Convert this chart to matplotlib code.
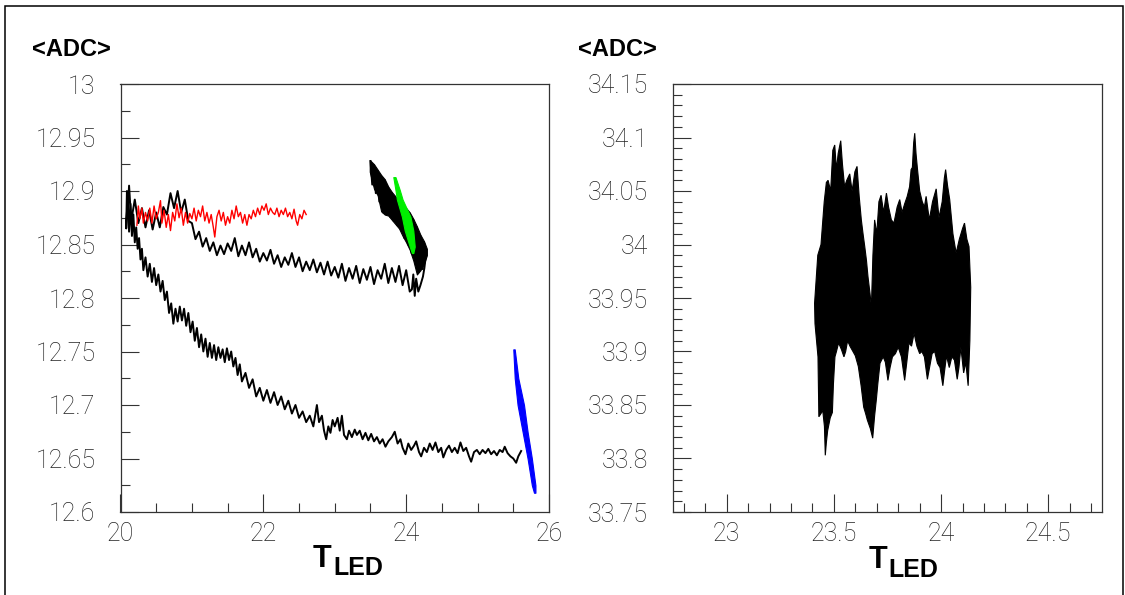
import numpy as np
import matplotlib
matplotlib.use("Agg")
from matplotlib import pyplot as plt
from matplotlib.ticker import MultipleLocator, FuncFormatter
from matplotlib.patches import Rectangle

#%% Data

# left panel: thick black band beside the green run
arm_t = [23.49, 23.55, 23.60, 23.65, 23.70, 23.75, 23.80, 23.85, 23.90, 23.95,
         24.00, 24.05, 24.10, 24.15, 24.20, 24.25, 24.29]
arm_hi = [12.929, 12.925, 12.920, 12.915, 12.911, 12.904, 12.899, 12.895, 12.891, 12.887,
          12.884, 12.880, 12.874, 12.867, 12.859, 12.853, 12.846]
arm_lo = [12.918, 12.902, 12.896, 12.881, 12.878, 12.877, 12.873, 12.869, 12.865, 12.858,
          12.852, 12.845, 12.835, 12.822, 12.826, 12.832, 12.840]

# left panel: black U-shaped run (band, bottom arm, back to 20)
u_t = [23.500, 23.525, 23.550, 23.575, 23.600, 23.625, 23.650, 23.675, 23.700, 23.725,
       23.750, 23.775, 23.800, 23.825, 23.850, 23.875, 23.900, 23.925, 23.950, 23.975,
       24.000, 24.025, 24.050, 24.075, 24.100, 24.125, 24.150, 24.175, 24.200, 24.225,
       24.250, 24.280, 24.255, 24.235, 24.200, 24.170, 24.140, 24.120, 24.100, 24.080,
       24.05, 24.00, 23.95, 23.90, 23.85, 23.80, 23.75, 23.70, 23.65, 23.60,
       23.55, 23.50, 23.45, 23.40, 23.35, 23.30, 23.25, 23.20, 23.15, 23.10,
       23.05, 23.00, 22.95, 22.90, 22.85, 22.80, 22.75, 22.70, 22.65, 22.60,
       22.55, 22.50, 22.45, 22.40, 22.35, 22.30, 22.25, 22.20, 22.15, 22.10,
       22.05, 22.00, 21.95, 21.90, 21.85, 21.80, 21.75, 21.70, 21.65, 21.60,
       21.55, 21.50, 21.45, 21.40, 21.35, 21.30, 21.25, 21.20, 21.15, 21.10,
       21.05, 21.00, 20.95, 20.90, 20.85, 20.80, 20.75, 20.70, 20.65, 20.60,
       20.55, 20.50, 20.45, 20.40, 20.35, 20.30, 20.25, 20.20, 20.15, 20.12,
       20.10, 20.09, 20.08, 20.10]
u_adc = [12.928, 12.906, 12.924, 12.898, 12.919, 12.890, 12.914, 12.880, 12.910, 12.878,
         12.903, 12.876, 12.898, 12.872, 12.894, 12.868, 12.890, 12.864, 12.886, 12.856,
         12.883, 12.850, 12.879, 12.842, 12.873, 12.834, 12.866, 12.824, 12.858, 12.827,
         12.852, 12.842, 12.828, 12.820, 12.812, 12.806, 12.818, 12.802, 12.822, 12.808,
         12.806, 12.826, 12.812, 12.830, 12.815, 12.828, 12.814, 12.832, 12.818, 12.826,
         12.813, 12.829, 12.817, 12.827, 12.814, 12.830, 12.818, 12.828, 12.816, 12.832,
         12.819, 12.829, 12.821, 12.834, 12.822, 12.833, 12.824, 12.836, 12.826, 12.834,
         12.825, 12.838, 12.829, 12.842, 12.831, 12.838, 12.829, 12.840, 12.832, 12.845,
         12.835, 12.842, 12.834, 12.846, 12.838, 12.852, 12.840, 12.849, 12.839, 12.856,
         12.844, 12.851, 12.841, 12.849, 12.840, 12.852, 12.844, 12.856, 12.848, 12.862,
         12.855, 12.870, 12.872, 12.892, 12.880, 12.900, 12.884, 12.898, 12.878, 12.885,
         12.866, 12.880, 12.864, 12.882, 12.866, 12.884, 12.870, 12.892, 12.872, 12.905,
         12.880, 12.900, 12.865, 12.895]

# left panel: black run falling from 20 to 25.6
fall_t = [20.10, 20.12, 20.14, 20.16, 20.18, 20.20, 20.22, 20.24, 20.26, 20.28,
          20.30, 20.32, 20.35, 20.38, 20.41, 20.44, 20.47, 20.50, 20.53, 20.56,
          20.59, 20.62, 20.65, 20.68, 20.71, 20.74, 20.77, 20.80, 20.83, 20.86,
          20.89, 20.92, 20.95, 20.98, 21.01, 21.04, 21.07, 21.10, 21.13, 21.16,
          21.19, 21.22, 21.25, 21.28, 21.31, 21.34, 21.37, 21.40, 21.43, 21.46,
          21.49, 21.52, 21.55, 21.58, 21.61, 21.64, 21.67, 21.70, 21.75, 21.80,
          21.85, 21.90, 21.95, 22.00, 22.05, 22.10, 22.15, 22.20, 22.25, 22.30,
          22.35, 22.40, 22.45, 22.50, 22.55, 22.60, 22.65, 22.70, 22.75, 22.78,
          22.82, 22.85, 22.88, 22.91, 22.94, 22.97, 23.00, 23.04, 23.07, 23.10,
          23.13, 23.17, 23.20, 23.24, 23.28, 23.31, 23.35, 23.39, 23.43, 23.47,
          23.51, 23.55, 23.59, 23.63, 23.67, 23.71, 23.75, 23.80, 23.84, 23.88,
          23.92, 23.95, 23.99, 24.03, 24.07, 24.11, 24.14, 24.18, 24.21, 24.25,
          24.29, 24.33, 24.37, 24.41, 24.45, 24.49, 24.52, 24.56, 24.60, 24.64,
          24.68, 24.72, 24.76, 24.80, 24.84, 24.88, 24.91, 24.95, 24.99, 25.03,
          25.07, 25.11, 25.15, 25.19, 25.23, 25.27, 25.31, 25.35, 25.38, 25.42,
          25.46, 25.50, 25.54, 25.57, 25.61]
fall_adc = [12.895, 12.862, 12.888, 12.858, 12.878, 12.852, 12.866, 12.846, 12.856, 12.836,
            12.846, 12.826, 12.838, 12.820, 12.832, 12.815, 12.828, 12.812, 12.822, 12.806,
            12.816, 12.798, 12.806, 12.786, 12.795, 12.776, 12.790, 12.778, 12.792, 12.779,
            12.790, 12.774, 12.786, 12.768, 12.778, 12.760, 12.772, 12.754, 12.766, 12.750,
            12.762, 12.745, 12.758, 12.744, 12.756, 12.742, 12.754, 12.744, 12.752, 12.740,
            12.753, 12.742, 12.750, 12.736, 12.744, 12.728, 12.738, 12.722, 12.730, 12.716,
            12.724, 12.708, 12.716, 12.704, 12.714, 12.702, 12.712, 12.700, 12.708, 12.696,
            12.704, 12.692, 12.700, 12.688, 12.694, 12.684, 12.690, 12.680, 12.700, 12.684,
            12.690, 12.676, 12.668, 12.680, 12.674, 12.686, 12.680, 12.688, 12.676, 12.690,
            12.672, 12.668, 12.676, 12.670, 12.677, 12.672, 12.676, 12.668, 12.674, 12.667,
            12.673, 12.666, 12.670, 12.664, 12.668, 12.661, 12.666, 12.670, 12.675, 12.664,
            12.668, 12.660, 12.654, 12.664, 12.658, 12.662, 12.666, 12.656, 12.652, 12.660,
            12.656, 12.664, 12.658, 12.665, 12.656, 12.660, 12.651, 12.658, 12.662, 12.656,
            12.660, 12.655, 12.665, 12.657, 12.660, 12.652, 12.647, 12.656, 12.658, 12.654,
            12.658, 12.655, 12.659, 12.654, 12.657, 12.653, 12.658, 12.656, 12.661, 12.655,
            12.652, 12.650, 12.646, 12.652, 12.657]

# left panel: red run
red_t = [20.23, 20.25, 20.27, 20.30, 20.32, 20.35, 20.38, 20.41, 20.44, 20.47,
         20.50, 20.53, 20.56, 20.58, 20.61, 20.64, 20.67, 20.70, 20.73, 20.76,
         20.79, 20.82, 20.85, 20.88, 20.91, 20.94, 20.97, 21.00, 21.03, 21.06,
         21.09, 21.12, 21.15, 21.18, 21.21, 21.24, 21.27, 21.30, 21.32, 21.35,
         21.38, 21.41, 21.44, 21.47, 21.50, 21.53, 21.56, 21.59, 21.62, 21.65,
         21.68, 21.71, 21.74, 21.77, 21.80, 21.83, 21.86, 21.89, 21.92, 21.95,
         21.98, 22.01, 22.04, 22.07, 22.10, 22.13, 22.16, 22.19, 22.22, 22.25,
         22.28, 22.31, 22.34, 22.37, 22.40, 22.43, 22.46, 22.48, 22.51, 22.54,
         22.57, 22.60]
red_adc = [12.868, 12.886, 12.874, 12.884, 12.870, 12.880, 12.872, 12.884, 12.870, 12.886,
           12.874, 12.880, 12.891, 12.870, 12.882, 12.866, 12.878, 12.863, 12.880, 12.872,
           12.888, 12.875, 12.884, 12.868, 12.880, 12.870, 12.879, 12.874, 12.884, 12.872,
           12.882, 12.876, 12.886, 12.872, 12.880, 12.870, 12.878, 12.866, 12.857, 12.876,
           12.882, 12.872, 12.880, 12.868, 12.876, 12.870, 12.882, 12.874, 12.886, 12.876,
           12.880, 12.870, 12.878, 12.868, 12.878, 12.874, 12.882, 12.876, 12.884, 12.878,
           12.886, 12.882, 12.888, 12.878, 12.884, 12.880, 12.878, 12.884, 12.876, 12.882,
           12.878, 12.884, 12.876, 12.880, 12.874, 12.883, 12.872, 12.868, 12.878, 12.874,
           12.882, 12.878]

# left panel: green band (edges at given ADC levels)
green_adc = [12.913, 12.901, 12.892, 12.876, 12.863, 12.848, 12.842]
green_left = [23.82, 23.85, 23.87, 23.94, 23.98, 24.05, 24.08]
green_right = [23.85, 23.91, 23.95, 24.06, 24.10, 24.12, 24.10]

# left panel: blue band (edges at given ADC levels)
blue_adc = [12.752, 12.725, 12.700, 12.675, 12.650, 12.625, 12.618]
blue_left = [25.50, 25.52, 25.56, 25.63, 25.70, 25.76, 25.79]
blue_right = [25.52, 25.57, 25.65, 25.70, 25.76, 25.81, 25.81]

# right panel: outline of the dense black cloud (top edge, then bottom edge back)
top_t = [23.410, 23.425, 23.440, 23.455, 23.465, 23.473, 23.485, 23.495, 23.504, 23.512,
         23.520, 23.532, 23.540, 23.550, 23.560, 23.574, 23.585, 23.598, 23.608, 23.618,
         23.628, 23.636, 23.644, 23.652, 23.659, 23.668, 23.675, 23.682, 23.690, 23.700,
         23.710, 23.720, 23.732, 23.745, 23.755, 23.768, 23.780, 23.795, 23.807, 23.818,
         23.830, 23.842, 23.853, 23.860, 23.866, 23.872, 23.877, 23.883, 23.890, 23.900,
         23.912, 23.922, 23.930, 23.945, 23.960, 23.977, 23.990, 24.005, 24.015, 24.021,
         24.030, 24.040, 24.055, 24.070, 24.085, 24.100, 24.109, 24.120, 24.130, 24.138]
top_adc = [33.945, 33.990, 34.000, 34.040, 34.058, 34.060, 34.050, 34.088, 34.093, 34.070,
           34.085, 34.097, 34.075, 34.054, 34.060, 34.066, 34.050, 34.068, 34.073, 34.045,
           34.023, 34.010, 33.998, 33.985, 33.970, 33.955, 33.942, 33.990, 34.023, 34.010,
           34.040, 34.046, 34.030, 34.048, 34.035, 34.023, 34.020, 34.035, 34.042, 34.030,
           34.038, 34.045, 34.054, 34.070, 34.072, 34.095, 34.104, 34.085, 34.070, 34.050,
           34.040, 34.035, 34.045, 34.023, 34.040, 34.052, 34.025, 34.040, 34.062, 34.070,
           34.055, 34.042, 34.010, 33.992, 34.005, 34.015, 34.020, 34.005, 33.998, 33.960]
bot_t = [24.134, 24.126, 24.115, 24.105, 24.092, 24.083, 24.075, 24.062, 24.050, 24.038,
         24.025, 24.015, 24.008, 23.995, 23.983, 23.970, 23.958, 23.946, 23.936, 23.922,
         23.910, 23.900, 23.887, 23.874, 23.862, 23.850, 23.840, 23.830, 23.815, 23.800,
         23.787, 23.773, 23.762, 23.752, 23.740, 23.730, 23.715, 23.705, 23.698, 23.690,
         23.681, 23.670, 23.663, 23.656, 23.648, 23.639, 23.627, 23.614, 23.600, 23.589,
         23.575, 23.564, 23.555, 23.547, 23.535, 23.522, 23.512, 23.505, 23.498, 23.493,
         23.483, 23.471, 23.465, 23.460, 23.456, 23.448, 23.440, 23.430, 23.426, 23.412]
bot_adc = [33.910, 33.868, 33.890, 33.880, 33.904, 33.885, 33.874, 33.892, 33.895, 33.885,
           33.896, 33.880, 33.868, 33.885, 33.889, 33.900, 33.898, 33.885, 33.874, 33.895,
           33.900, 33.898, 33.905, 33.917, 33.905, 33.908, 33.890, 33.873, 33.895, 33.904,
           33.898, 33.895, 33.885, 33.873, 33.890, 33.895, 33.889, 33.870, 33.855, 33.840,
           33.819, 33.828, 33.832, 33.836, 33.842, 33.848, 33.868, 33.886, 33.896, 33.900,
           33.905, 33.910, 33.900, 33.895, 33.902, 33.908, 33.900, 33.895, 33.870, 33.843,
           33.838, 33.826, 33.815, 33.803, 33.830, 33.845, 33.842, 33.839, 33.895, 33.926]

#%% Figure
plt.rcParams['font.family'] = ['Roboto', 'DejaVu Sans']
tick_font = dict(family=['Roboto', 'DejaVu Sans'], weight='light', size=18)
bold_font = ['Liberation Sans', 'DejaVu Sans']

fig = plt.figure(figsize=(11.25, 5.95), dpi=100)

# outer frame (no bottom edge visible)
fig.add_artist(Rectangle((5 / 1125, -0.02), 1118 / 1125, 1.02 - 6 / 595,
                         transform=fig.transFigure, fill=False,
                         edgecolor='black', linewidth=1.1))

ax1 = fig.add_axes([120.5 / 1125, 83 / 595, 428.5 / 1125, 428 / 595])
ax2 = fig.add_axes([673 / 1125, 83 / 595, 429 / 1125, 428 / 595])

ax1.fill_between(arm_t, arm_lo, arm_hi, color='black', lw=0.8, edgecolor='black')
ax1.plot(u_t, u_adc, color='black', lw=1.4)
ax1.plot(fall_t, fall_adc, color='black', lw=1.4)
ax1.plot(red_t, red_adc, color='#ff0000', lw=1.0)
# fills sit under lines by default, so lift the coloured bands
ax1.fill_betweenx(green_adc, green_left, green_right, color='#00ee00', lw=0.8,
                  edgecolor='#00ee00', zorder=3)
ax1.fill_betweenx(blue_adc, blue_left, blue_right, color='#0000ff', lw=0.8,
                  edgecolor='#0000ff', zorder=3)

ax2.fill(top_t + bot_t, top_adc + bot_adc, facecolor='black',
         edgecolor='black', lw=0.8)

ax1.set_xlim(20, 26)
ax1.set_ylim(12.6, 13.0)
ax2.set_xlim(22.75, 24.75)
ax2.set_ylim(33.75, 34.15)

fmt = FuncFormatter(lambda v, pos: f"{round(v, 4):g}")

ax1.xaxis.set_major_locator(MultipleLocator(2))
ax1.xaxis.set_minor_locator(MultipleLocator(0.5))
ax1.yaxis.set_major_locator(MultipleLocator(0.05))
ax1.yaxis.set_minor_locator(MultipleLocator(0.025))
ax2.xaxis.set_major_locator(MultipleLocator(0.5))
ax2.xaxis.set_minor_locator(MultipleLocator(0.1))
ax2.yaxis.set_major_locator(MultipleLocator(0.05))
ax2.yaxis.set_minor_locator(MultipleLocator(0.01))

for ax in (ax1, ax2):
    ax.xaxis.set_major_formatter(fmt)
    ax.yaxis.set_major_formatter(fmt)
    for s in ax.spines.values():
        s.set_linewidth(0.9)
        s.set_color('#333333')
    ax.tick_params(which='both', direction='in', top=False, right=False,
                   colors='#333333', width=0.8)
    ax.tick_params(which='major', length=13)
    ax.tick_params(which='minor', length=6.5)
    ax.tick_params(axis='y', which='major', pad=18)
    ax.tick_params(axis='x', which='major', pad=7)
    for lab in ax.get_xticklabels() + ax.get_yticklabels():
        lab.set_fontfamily(tick_font['family'])
        lab.set_fontweight(tick_font['weight'])
        lab.set_fontsize(tick_font['size'])
        lab.set_color('#222222')

# axis titles, ROOT style
for x0 in (32, 578):
    fig.text(x0 / 1125, 1 - 50 / 595, '<ADC>', ha='left', va='center',
             fontsize=17, fontweight='bold', family=bold_font)

for tx, lx, tb, lb in ((313, 333, 567, 575), (869, 888, 568, 577)):
    fig.text(tx / 1125, 1 - tb / 595, 'T', ha='left', va='baseline',
             fontsize=22, fontweight='bold', family=bold_font)
    fig.text(lx / 1125, 1 - lb / 595, 'LED', ha='left', va='baseline',
             fontsize=18, fontweight='bold', family=bold_font)

fig.savefig('out.png', dpi=100)
